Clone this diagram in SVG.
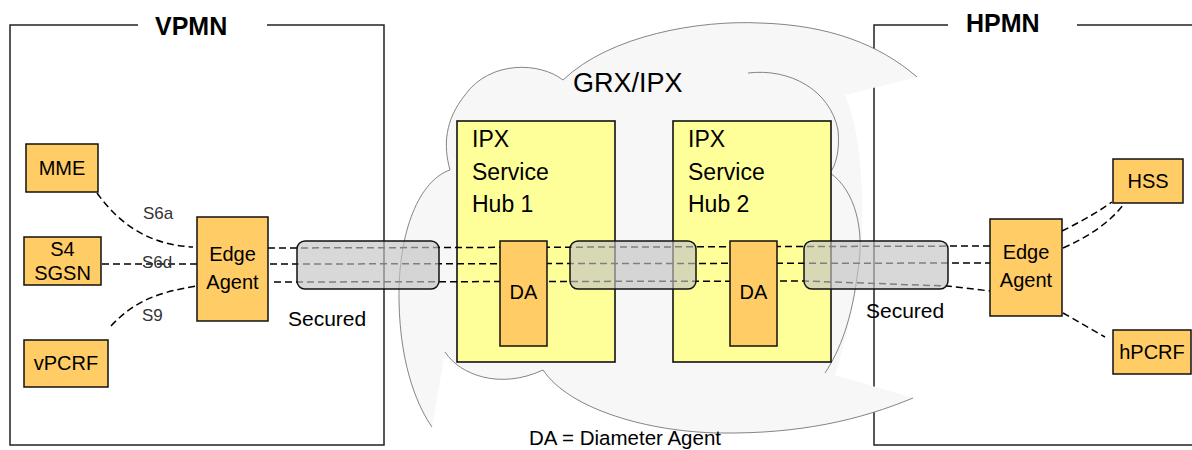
<svg xmlns="http://www.w3.org/2000/svg" width="1192" height="450" viewBox="0 0 1192 450">
<style>
text{font-family:"Liberation Sans",Arial,sans-serif;fill:#000}
.frame{fill:none;stroke:#222;stroke-width:1.5}
.title{font-weight:bold;font-size:25px}
.org{fill:#ffcc66;stroke:#111;stroke-width:1.5}
.hub{fill:#ffff99;stroke:#111;stroke-width:1.6}
.nl{font-size:20px;text-anchor:middle}
.hl{font-size:23px}
.lbl{font-size:17px;fill:#333}
.dash{fill:none;stroke:#000;stroke-width:1.5;stroke-dasharray:7 4}
.tube{fill:#c3c3c3;fill-opacity:0.65;stroke:#111;stroke-width:1.5}
.cl{fill:none;stroke:#666;stroke-width:0.8}
</style>
<rect width="1192" height="450" fill="#fff"/>
<g id="vpmn">
<path class="frame" d="M138,25 H10 V445 H384 V25 H267"/>
<text class="title" x="155" y="35">VPMN</text>
</g>
<g id="hpmn">
<path class="frame" d="M948,25 H874 V445 H1192 M1077,25 H1192"/>
<text class="title" x="966" y="32">HPMN</text>
</g>
<g id="cloud">
<path fill="#f7f7f7" d="M563,80 C610,35 700,20 760,23 C830,25 880,45 917,77 L845,95 C865,140 865,230 858,270 C852,320 840,360 835,375 L913,398 C860,420 800,434 720,433 C650,432 570,410 543,370 C500,390 460,375 445,352 L432,427 C420,410 400,370 399,300 C398,230 420,180 450,170 C443,145 445,120 465,95 C490,60 540,62 563,80 Z"/>
<path class="cl" d="M563,80 C610,35 700,20 760,23 C830,25 880,45 917,77"/>
<path class="cl" d="M563,80 C540,62 490,60 465,95 C445,120 443,145 450,170"/>
<path class="cl" d="M450,170 C420,180 398,230 399,300 C400,370 420,410 432,427"/>
<path class="cl" d="M445,352 C460,375 500,390 543,370"/>
<path class="cl" d="M543,370 C570,410 650,432 720,433 C800,434 860,420 913,398"/>
<path class="cl" d="M748,73 C790,68 830,90 838,130 C840,150 836,165 830,173"/>
<path class="cl" d="M830,173 C855,190 865,230 858,270 C852,320 840,350 825,373"/>
<text x="573" y="92" font-size="27">GRX/IPX</text>
</g>
<g id="hub1">
<rect class="hub" x="457" y="121" width="158" height="241"/>
<text class="hl" x="472" y="147">IPX</text>
<text class="hl" x="472" y="180">Service</text>
<text class="hl" x="472" y="212">Hub 1</text>
</g>
<g id="hub2">
<rect class="hub" x="673" y="121" width="158" height="241"/>
<text class="hl" x="688" y="147">IPX</text>
<text class="hl" x="688" y="180">Service</text>
<text class="hl" x="688" y="212">Hub 2</text>
</g>
<g id="connectors">
<path class="dash" d="M97,193 C120,225 150,245 193,247"/>
<path class="dash" d="M102,264 H197"/>
<path class="dash" d="M111,326 C135,300 160,292 197,286"/>
<path class="dash" d="M268,248 L990,246"/>
<path class="dash" d="M270,264 L990,263"/>
<path class="dash" d="M274,282 L804,281 L947,286 L990,291"/>
<path class="dash" d="M1062,231 C1080,222 1095,214 1112,202"/>
<path class="dash" d="M1063,248 C1090,236 1110,222 1123,205"/>
<path class="dash" d="M1063,313 L1105,337"/>
</g>
<g id="da1">
<rect class="org" x="500" y="241" width="47" height="105"/>
<text class="nl" x="523.5" y="299">DA</text>
</g>
<g id="da2">
<rect class="org" x="730" y="241" width="47" height="105"/>
<text class="nl" x="753.5" y="299">DA</text>
</g>
<g id="tubes">
<rect class="tube" x="297" y="241" width="142" height="48" rx="8"/>
<rect class="tube" x="570" y="241" width="126" height="48" rx="8"/>
<rect class="tube" x="804" y="241" width="144" height="48" rx="8"/>
<text x="288" y="326" font-size="21">Secured</text>
<text x="866" y="318" font-size="21">Secured</text>
</g>
<g id="mme">
<rect class="org" x="26" y="144" width="72" height="48"/>
<text class="nl" x="62" y="175">MME</text>
</g>
<g id="sgsn">
<rect class="org" x="24" y="237" width="77" height="48"/>
<text class="nl" x="62.5" y="256" font-size="18">S4</text>
<text class="nl" x="62.5" y="280" font-size="18">SGSN</text>
</g>
<g id="vpcrf">
<rect class="org" x="24" y="340" width="84" height="47"/>
<text class="nl" x="66" y="370">vPCRF</text>
</g>
<g id="edge-left">
<rect class="org" x="197" y="217" width="71" height="104"/>
<text class="nl" x="232.5" y="261">Edge</text>
<text class="nl" x="232.5" y="289">Agent</text>
</g>
<g id="edge-right">
<rect class="org" x="990" y="219" width="72" height="97"/>
<text class="nl" x="1026" y="259">Edge</text>
<text class="nl" x="1026" y="287">Agent</text>
</g>
<g id="hss">
<rect class="org" x="1113" y="159" width="70" height="44"/>
<text class="nl" x="1148" y="188">HSS</text>
</g>
<g id="hpcrf">
<rect class="org" x="1113" y="330" width="78" height="44"/>
<text class="nl" x="1152" y="359">hPCRF</text>
</g>
<g id="labels">
<text class="lbl" x="143" y="219">S6a</text>
<text class="lbl" x="142" y="268">S6d</text>
<text class="lbl" x="142" y="321">S9</text>
<text x="529" y="445" font-size="20.5">DA = Diameter Agent</text>
</g>
</svg>
